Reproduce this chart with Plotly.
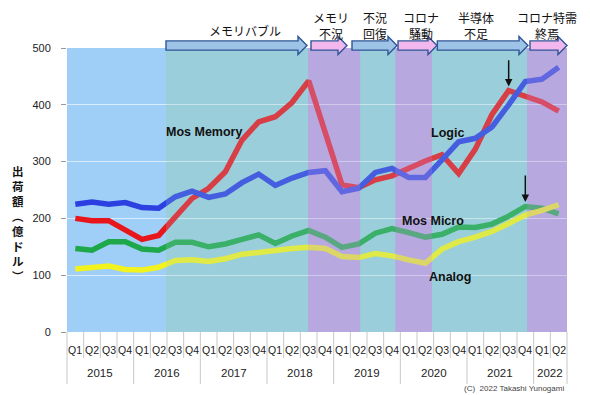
import plotly.graph_objects as go

quarters = ["Q1", "Q2", "Q3", "Q4"] * 7 + ["Q1", "Q2"]
years = ["2015", "2016", "2017", "2018", "2019", "2020", "2021", "2022"]
year_quarter_counts = [4, 4, 4, 4, 4, 4, 4, 2]

mos_memory = [200, 196, 196, 180, 163, 170, 203, 235, 253, 282, 338, 370, 379, 404, 442,
              350, 259, 254, 268, 275, 289, 301, 312, 279, 322, 383, 425, 414, 405, 389]
logic = [225, 229, 225, 228, 219, 218, 238, 248, 237, 243, 263, 278, 258, 271, 281,
         284, 247, 253, 281, 288, 272, 272, 303, 335, 341, 361, 400, 441, 445, 466]
mos_micro = [147, 144, 159, 159, 146, 144, 158, 158, 150, 155, 163, 171, 156, 169, 179,
             167, 149, 155, 174, 182, 175, 167, 172, 185, 184, 190, 204, 221, 218, 208]
analog = [111, 113, 116, 110, 109, 114, 126, 127, 124, 129, 137, 140, 144, 147, 149,
          147, 133, 131, 138, 134, 127, 121, 146, 159, 167, 177, 191, 206, 214, 224]

series_names = ["Mos Memory", "Logic", "Mos Micro", "Analog"]
phase_labels = ["メモリバブル", "メモリ<br>不況", "不況<br>回復", "コロナ<br>騒動", "半導体<br>不足", "コロナ特需<br>終焉"]
y_title = "出<br>荷<br>額<br>︵<br>億<br>ド<br>ル<br>︶"
copyright_text = "(C)  2022 Takashi Yunogami"

N = len(quarters)
xs = list(range(N))

# background bands (x in category-index units)
bands = [(-0.5, 5.44, "#9fcff6", 0.0), (5.44, 13.96, "#9bcfdb", 0.22), (13.96, 17.1, "#b8a9e0", 0.38),
         (17.1, 19.2, "#9bcfdb", 0.22), (19.2, 21.4, "#b8a9e0", 0.38), (21.4, 27.1, "#9bcfdb", 0.22),
         (27.1, 29.5, "#b8a9e0", 0.38)]
# phase arrows (x in category-index units)
arrows = [(5.44, 13.9, "#9dc3e6"), (14.14, 16.3, "#f2b8ee"), (16.6, 19.3, "#9dc3e6"),
          (19.36, 21.7, "#f2b8ee"), (21.72, 27.16, "#9dc3e6"), (27.28, 29.5, "#f2b8ee")]
phase_text_x = [10.18, 15.34, 17.98, 20.74, 24.04, 28.3]

colors = ["#e8161b", "#2c3fe0", "#1fa84a", "#f2f21e"]

# target geometry in window pixels; page body adds an 8px offset
OFF = 8
PLOT_L, PLOT_R, PLOT_T, PLOT_B = 67, 567, 48, 332
FIG_W, FIG_H = 590 - OFF, 395 - OFF
W = PLOT_R - PLOT_L
H = PLOT_B - PLOT_T


def px(xd):
    return (xd + 0.5) / N


def py(ypix):
    return (PLOT_B - ypix) / H


fig = go.Figure()
for name, vals, c in zip(series_names, [mos_memory, logic, mos_micro, analog], colors):
    fig.add_trace(go.Scatter(x=xs, y=vals, mode="lines", name=name,
                             line=dict(color=c, width=5.5), showlegend=False))

shapes = []
for x0, x1, c, op in bands:
    shapes.append(dict(type="rect", xref="x", yref="y", x0=x0, x1=x1, y0=0, y1=500,
                       fillcolor=c, line=dict(width=0), layer="below"))
for x0, x1, c, op in bands:
    if op > 0:
        shapes.append(dict(type="rect", xref="x", yref="y", x0=x0, x1=x1, y0=0, y1=500,
                           fillcolor=c, opacity=op, line=dict(width=0), layer="above"))

# block arrows
yc = py(45.5)
bh = 4.6 / H
hh = 9.0 / H
hl = 9.0 / W
for x0, x1, c in arrows:
    a, b = px(x0), px(x1)
    xh = b - hl
    path = (f"M{a},{yc+bh} L{xh},{yc+bh} L{xh},{yc+hh} L{b},{yc} L{xh},{yc-hh} "
            f"L{xh},{yc-bh} L{a},{yc-bh} Z")
    shapes.append(dict(type="path", xref="paper", yref="paper", path=path,
                       fillcolor=c, line=dict(color="#2f5597", width=1.4), layer="above"))

# x-axis separators
sep_col = "#c8c8c8"
year_bounds = [0]
for n in year_quarter_counts:
    year_bounds.append(year_bounds[-1] + n)
for k in range(N + 1):
    long = k in year_bounds
    shapes.append(dict(type="line", xref="paper", yref="paper", x0=k / N, x1=k / N,
                       y0=0, y1=py(384 if long else 358),
                       line=dict(color=sep_col, width=1)))


def note(x, y, text, font, **kw):
    d = dict(x=x, y=y, xref="paper", yref="paper", text=text, showarrow=False, borderpad=0,
             xanchor="center", yanchor="middle", font=font)
    d.update(kw)
    return d


annotations = []
for i, q in enumerate(quarters):
    annotations.append(note(px(i), py(350), q, dict(family="Arial", size=10.5, color="#222")))
for j, yr in enumerate(years):
    center = (year_bounds[j] + year_bounds[j + 1]) / 2 - 0.5
    annotations.append(note(px(center), py(373), yr, dict(family="Arial", size=11.5, color="#222")))
annotations.append(note(px(29.4), py(388), copyright_text,
                        dict(family="Arial", size=8, color="#444"), xanchor="right"))

# phase labels
for lbl, tx in zip(phase_labels, phase_text_x):
    two = "<br>" in lbl
    annotations.append(note(px(tx), py(25 if two else 30), lbl,
                            dict(family="Noto Sans CJK JP", size=12, color="#111")))

# series labels
label_pos = [(7.7, 132), (22.3, 133), (21.45, 221), (22.5, 277)]
for name, (lx, ly) in zip(series_names, label_pos):
    annotations.append(note(px(lx), py(ly), f"<b>{name}</b>",
                            dict(family="Arial", size=12.5, color="#111")))

# black arrows
annotations.append(dict(x=26, y=432, ax=26, ay=481, xref="x", yref="y", axref="x", ayref="y",
                        text="", showarrow=True, arrowhead=2, arrowsize=1, arrowwidth=1.5,
                        arrowcolor="#111"))
annotations.append(dict(x=27, y=229, ax=27, ay=278, xref="x", yref="y", axref="x", ayref="y",
                        text="", showarrow=True, arrowhead=2, arrowsize=1, arrowwidth=1.5,
                        arrowcolor="#111"))

# vertical y-axis title (upright characters)
annotations.append(note((18 - PLOT_L) / W, py(223), f"<b>{y_title}</b>",
                        dict(family="Noto Sans CJK JP", size=11.5, color="#111")))

fig.update_layout(
    width=FIG_W, height=FIG_H,
    margin=dict(l=PLOT_L - OFF, r=590 - PLOT_R, t=PLOT_T - OFF, b=395 - PLOT_B, pad=0),
    paper_bgcolor="white", plot_bgcolor="#9fcff6",
    shapes=shapes, annotations=annotations,
    xaxis=dict(range=[-0.5, N - 0.5], showticklabels=False, showgrid=False, zeroline=False,
               showline=False, ticks=""),
    yaxis=dict(range=[0, 500], dtick=100, showgrid=True, gridcolor="rgba(255,255,255,0.6)",
               gridwidth=1, zeroline=False, showline=False, ticks="outside", ticklen=5,
               tickcolor="#999", ticklabelstandoff=8,
               tickfont=dict(family="Arial", size=11, color="#222")),
)

fig.write_html("out.html")
